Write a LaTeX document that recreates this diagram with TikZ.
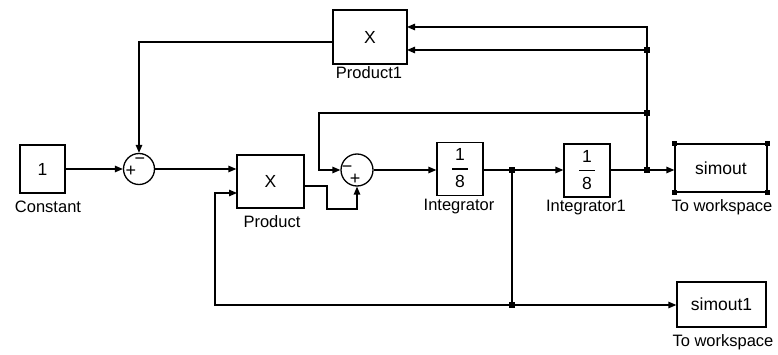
\documentclass[tikz,border=0pt]{standalone}
\usepackage{fontspec}
\setmainfont{Liberation Sans}
\usetikzlibrary{arrows.meta}
\begin{document}
\begin{tikzpicture}[x=1pt,y=-1pt,
 blk/.style={draw,line width=1.3pt,inner sep=0pt,font=\fontsize{17.5}{20}\selectfont},
 sumc/.style={draw,circle,line width=1.3pt,minimum size=31pt,inner sep=0pt},
 sgn/.style={inner sep=0pt,font=\fontsize{18}{20}\selectfont},
 lab/.style={font=\fontsize{16.5}{18}\selectfont,inner sep=0pt},
 wire/.style={line width=1.3pt},
 arr/.style={wire,-{Triangle[length=8pt,width=6.5pt]}},
 jdot/.style={fill,minimum size=5.5pt,inner sep=0pt},
 hdl/.style={fill,minimum size=5pt,inner sep=0pt}]
\useasboundingbox (0,0) rectangle (778,355);
\arrayrulewidth=1.1pt
\newcommand{\oneeighth}{\renewcommand\arraystretch{1.3}\begin{tabular}{@{\,}c@{\,}}1\\\hline 8\end{tabular}}
% blocks
\node[blk,minimum width=45pt,minimum height=48pt] (const) at (42.5,169) {1};
\node[sumc] (sum1) at (139,169) {};
\node[blk,minimum width=67pt,minimum height=53pt] (prod) at (270.5,181.5) {X};
\node[sumc,minimum size=32pt] (sum2) at (357,170) {};
\node[blk,minimum width=46pt,minimum height=48pt] (int) at (460,169) {\oneeighth};
\node[blk,minimum width=46pt,minimum height=49pt] (int1) at (587,170.5) {\oneeighth};
\node[blk,minimum width=92pt,minimum height=48pt] (sim) at (721,168) {simout};
\node[blk,minimum width=89pt,minimum height=45pt] (sim1) at (721.5,304.5) {simout1};
\node[blk,minimum width=74pt,minimum height=54pt] (prod1) at (370,37) {X};
% signs
\node[sgn] (s1p) at (131,171) {+};
\node[sgn] (s1m) at (140,161) {−};
\node[sgn] (s2m) at (347,169) {−};
\node[sgn] (s2p) at (355,179) {+};
% labels
\node[lab] (lconst) at (48,207) {Constant};
\node[lab] (lprod) at (272,222) {Product};
\node[lab] (lint) at (459,207) {Integrator};
\node[lab] (lint1) at (586,208) {Integrator1};
\node[lab] (lsim) at (722,207) {To workspace};
\node[lab] (lprod1) at (369,73) {Product1};
\node[lab] (lsim1) at (723,342) {To workspace};
% selection handles
\foreach \c in {north west,north east,south west,south east}
  \node[hdl] at (sim.\c) {};
% coordinates
\coordinate (j1) at (512,170);
\coordinate (j2) at (647,170);
\coordinate (j3) at (647,113);
\coordinate (j4) at (647,50);
\coordinate (j5) at (512,305);
\coordinate (p1in1) at (407,27);
\coordinate (p1in2) at (407,50);
\coordinate (p1out) at (333,42);
\coordinate (pin2) at (237,193);
\coordinate (pout) at (304,186);
\coordinate (bl) at (215,305);
% wires
\draw[arr] (const.east) -- (sum1.west);
\draw[arr] (p1out) -- (sum1.north |- p1out) -- (sum1.north);
\draw[arr] (sum1.east) -- (sum1.east -| prod.west);
\draw[arr] (pout) -- (327,186) -- (327,209) -- (sum2.south |- 0,209) -- (sum2.south);
\draw[arr] (sum2.east) -- (sum2.east -| int.west);
\draw[wire] (int.east |- j1) -- (j1);
\draw[arr] (j1) -- (j1 -| int1.west);
\draw[wire] (int1.east |- j2) -- (j2);
\draw[arr] (j2) -- (j2 -| sim.west);
\draw[arr] (j2) -- (j2 |- p1in1) -- (p1in1);
\draw[arr] (j4) -- (p1in2);
\draw[arr] (j3) -- (319,113) -- (319,170) -- (sum2.west);
\draw[wire] (j1) -- (j5);
\draw[arr] (j5) -- (j5 -| sim1.west);
\draw[arr] (j5) -- (bl) -- (bl |- pin2) -- (pin2);
% junction dots
\foreach \j in {j1,j2,j3,j4,j5}
  \node[jdot] at (\j) {};
\end{tikzpicture}
\end{document}
